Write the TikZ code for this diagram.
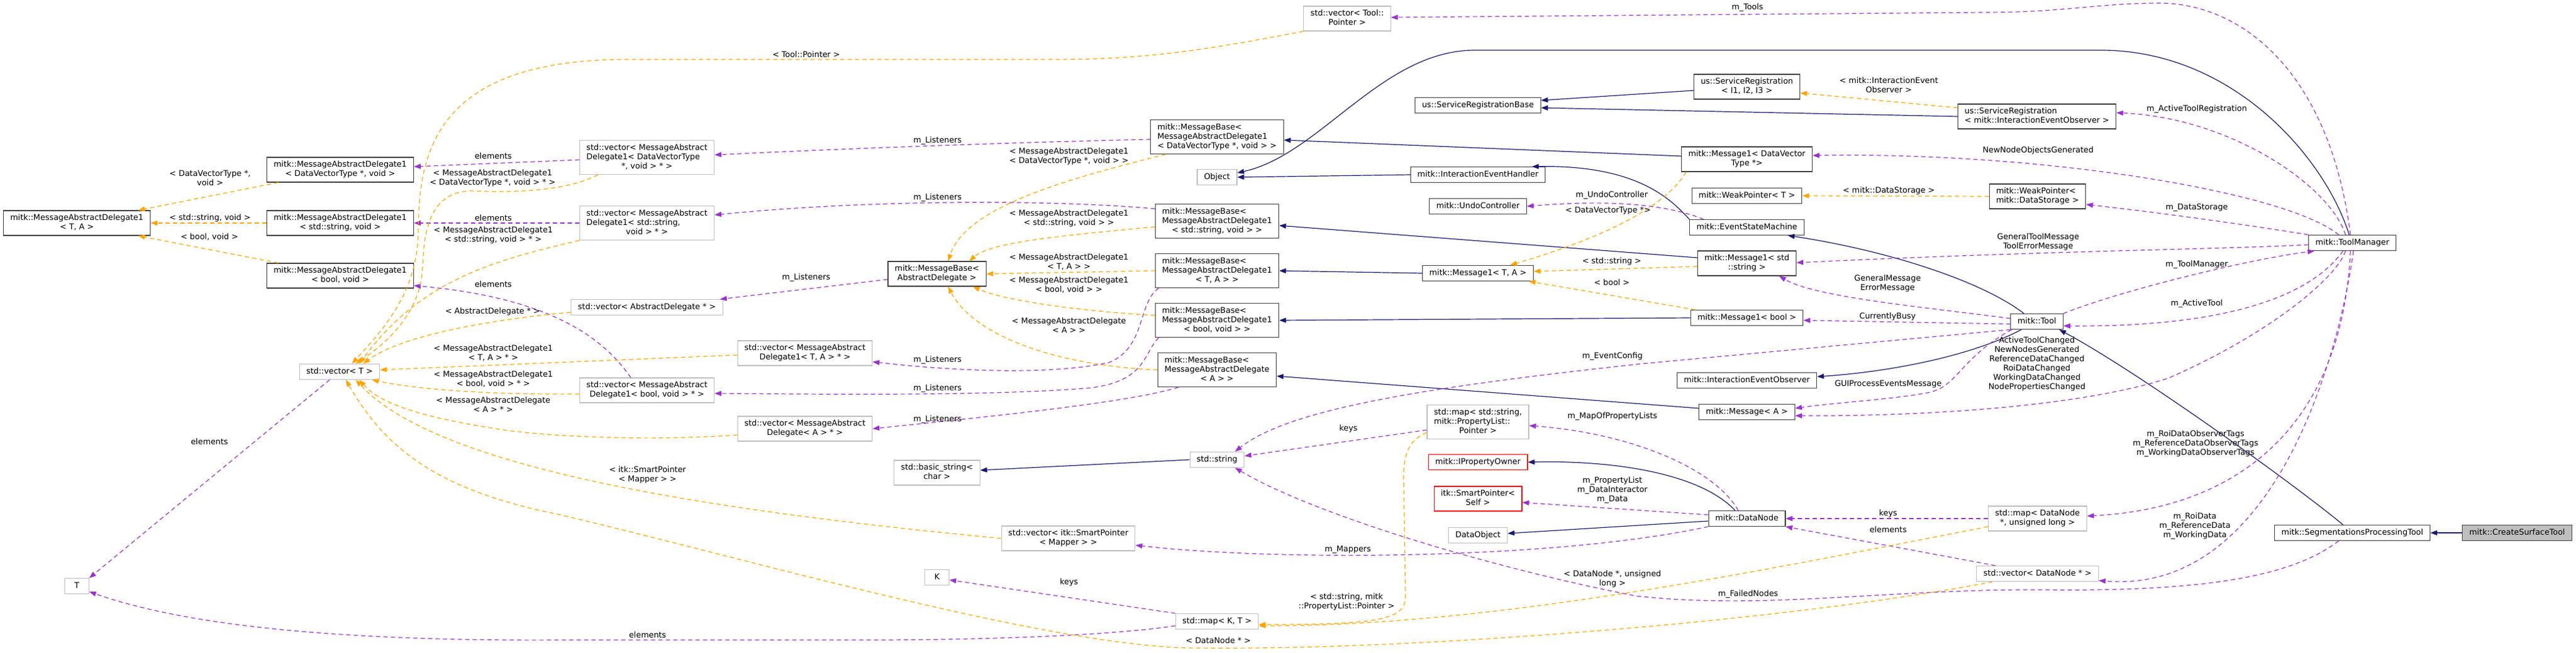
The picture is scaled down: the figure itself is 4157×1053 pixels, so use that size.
\documentclass[tikz,border=0pt]{standalone}
\usepackage{fontspec}
\setmainfont{DejaVu Sans}
\usetikzlibrary{arrows.meta}
\definecolor{inhblue}{HTML}{191970}
\definecolor{usepurple}{HTML}{9A32CD}
\definecolor{tplorange}{HTML}{FFA500}
\definecolor{boxgray}{HTML}{BFBFBF}
\definecolor{boxdark}{HTML}{404040}

\begin{document}
\begin{tikzpicture}[
  x=1pt, y=-1pt, % 像素坐标:向右 1pt,向下 1pt
  >={Triangle[length=11pt,width=8pt]},
  box/.style={draw=boxdark, line width=1.1pt, fill=white, inner xsep=11pt, inner ysep=5pt, font=\fontsize{12.9}{15}\selectfont},
  clsbox/.style={box},
  extbox/.style={box, draw=boxgray},
  redbox/.style={box, draw=red},
  curbox/.style={box, fill=boxgray},
  elabel/.style={font=\fontsize{12.9}{15}\selectfont, inner sep=0pt},
  inhline/.style={->, draw=inhblue, line width=1.2pt},
  useline/.style={->, draw=usepurple, line width=1.2pt, dash pattern=on 7pt off 5pt},
  tplline/.style={->, draw=tplorange, line width=1.2pt, dash pattern=on 7pt off 5pt}
]
  \fill[white] (0,0) rectangle (4157,1053);
  \useasboundingbox (0,0) rectangle (4157,1053);

  % 节点文字宏:前几行左对齐,最后一行居中
  \newcommand{\nodetxt}[2]{\begin{tabular}{@{}l@{}}#1\\\multicolumn{1}{@{}c@{}}{#2}\end{tabular}}
  \newcommand{\labtxt}[1]{\begin{tabular}{@{}c@{}}#1\end{tabular}}

  % 左侧:委托与 vector
  \node[clsbox] (madTA) at (124,360) {\nodetxt{mitk::MessageAbstractDelegate1}{< T, A >}};
  \node[extbox, minimum width=39pt] (tT) at (124,946) {\strut T};
  \node[clsbox] (madDVT) at (549,274) {\nodetxt{mitk::MessageAbstractDelegate1}{< DataVectorType *, void >}};
  \node[clsbox] (madStr) at (549,360) {\nodetxt{mitk::MessageAbstractDelegate1}{< std::string, void >}};
  \node[clsbox] (madBool) at (549,445) {\nodetxt{mitk::MessageAbstractDelegate1}{< bool, void >}};
  \node[extbox] (vecT) at (548,600) {\strut std::vector< T >};
  \node[extbox] (vecDVT) at (1044,254) {\nodetxt{std::vector< MessageAbstract\\Delegate1< DataVectorType}{*, void > * >}};
  \node[extbox] (vecStr) at (1044,360) {\nodetxt{std::vector< MessageAbstract\\Delegate1< std::string,}{void > * >}};
  \node[extbox] (vecAD) at (1044,496) {\strut std::vector< AbstractDelegate * >};
  \node[extbox] (vecBool) at (1044,630) {\nodetxt{std::vector< MessageAbstract}{Delegate1< bool, void > * >}};
  \node[extbox] (vecTA) at (1299,570) {\nodetxt{std::vector< MessageAbstract}{Delegate1< T, A > * >}};
  \node[extbox] (vecA) at (1299,692) {\nodetxt{std::vector< MessageAbstract}{Delegate< A > * >}};

  % 中部:MessageBase 与 std 类型
  \node[clsbox] (mbAD) at (1512,442) {\nodetxt{mitk::MessageBase<}{AbstractDelegate >}};
  \node[extbox] (basicStr) at (1512,763) {\nodetxt{std::basic\_string<}{char >}};
  \node[extbox, minimum width=39pt] (tK) at (1512,932) {\strut K};
  \node[extbox] (vecMapper) at (1724,869) {\nodetxt{std::vector< itk::SmartPointer}{< Mapper > >}};
  \node[clsbox] (mbDVT) at (1964,221) {\nodetxt{mitk::MessageBase<\\MessageAbstractDelegate1}{< DataVectorType *, void > >}};
  \node[extbox] (object) at (1964,286) {\strut Object};
  \node[clsbox] (mbStr) at (1964,357) {\nodetxt{mitk::MessageBase<\\MessageAbstractDelegate1}{< std::string, void > >}};
  \node[clsbox] (mbTA) at (1964,437) {\nodetxt{mitk::MessageBase<\\MessageAbstractDelegate1}{< T, A > >}};
  \node[clsbox] (mbBool) at (1964,517) {\nodetxt{mitk::MessageBase<\\MessageAbstractDelegate1}{< bool, void > >}};
  \node[clsbox] (mbA) at (1964,597) {\nodetxt{mitk::MessageBase<\\MessageAbstractDelegate}{< A > >}};
  \node[extbox] (stdStr) at (1964,742) {\strut std::string};
  \node[extbox] (mapKT) at (1964,1003) {\strut std::map< K, T >};
  \node[extbox] (vecTool) at (2174,30) {\nodetxt{std::vector< Tool::}{Pointer >}};
  \node[clsbox] (srBase) at (2385,170) {\strut us::ServiceRegistrationBase};
  \node[clsbox] (ieh) at (2385,282) {\strut mitk::InteractionEventHandler};
  \node[clsbox] (undo) at (2385,333) {\strut mitk::UndoController};
  \node[clsbox] (msgTA) at (2385,441) {\strut mitk::Message1< T, A >};
  \node[extbox] (mapPL) at (2385,681) {\nodetxt{std::map< std::string,\\mitk::PropertyList::}{Pointer >}};
  \node[redbox] (ipo) at (2385,746) {\strut mitk::IPropertyOwner};
  \node[redbox] (smartSelf) at (2385,805) {\nodetxt{itk::SmartPointer<}{Self >}};
  \node[extbox] (dataObj) at (2385,864) {\strut DataObject};

  % 右部:消息、工具与管理器
  \node[clsbox] (sr3) at (2819,140) {\nodetxt{us::ServiceRegistration}{< I1, I2, I3 >}};
  \node[clsbox] (msgDVT) at (2819,257) {\nodetxt{mitk::Message1< DataVector}{Type *>}};
  \node[clsbox] (wpT) at (2819,316) {\strut mitk::WeakPointer< T >};
  \node[clsbox] (esm) at (2819,367) {\strut mitk::EventStateMachine};
  \node[clsbox] (msgStr) at (2819,425) {\nodetxt{mitk::Message1< std}{::string >}};
  \node[clsbox] (msgBool) at (2819,513) {\strut mitk::Message1< bool >};
  \node[clsbox] (ieo) at (2819,614) {\strut mitk::InteractionEventObserver};
  \node[clsbox] (msgA) at (2819,665) {\strut mitk::Message< A >};
  \node[clsbox] (dataNode) at (2819,837) {\strut mitk::DataNode};
  \node[clsbox] (srIEO) at (3287,188) {\nodetxt{us::ServiceRegistration}{< mitk::InteractionEventObserver >}};
  \node[clsbox] (wpDS) at (3288,317) {\nodetxt{mitk::WeakPointer<}{mitk::DataStorage >}};
  \node[clsbox] (tool) at (3287,519) {\strut mitk::Tool};
  \node[extbox] (mapDN) at (3288,837) {\nodetxt{std::map< DataNode}{*, unsigned long >}};
  \node[extbox] (vecDN) at (3288,926) {\strut std::vector< DataNode * >};
  \node[clsbox] (toolMgr) at (3796,392) {\strut mitk::ToolManager};
  \node[clsbox] (segTool) at (3796,860) {\strut mitk::SegmentationsProcessingTool};
  \node[curbox] (createTool) at (4062,860) {\strut mitk::CreateSurfaceTool};

  % 继承(实线)
  \draw[inhline] (createTool.west) -- (segTool.east);
  \draw[inhline] ([xshift=-15pt]segTool.north) .. controls (3700,780) and (3450,600) .. ([xshift=36pt]tool.south);
  \draw[inhline] ([xshift=-25pt]tool.south) .. controls (3180,575) and (3050,600) .. ([yshift=6pt]ieo.east);
  \draw[inhline] ([xshift=-21pt]tool.north) .. controls (3200,455) and (3050,405) .. ([xshift=66pt]esm.south);
  \draw[inhline] (esm.north west) .. controls (2695,320) and (2640,266) .. ([xshift=-22pt]ieh.north east);
  \draw[inhline] (ieh.west) -- (object.east);
  \draw[inhline] ([xshift=-5pt]toolMgr.north) .. controls (3750,250) and (3600,81) .. (3390,81) -- (2380,81)
    .. controls (2230,81) and (2130,250) .. ([yshift=7pt]object.east);
  \draw[inhline] ([yshift=-6pt]sr3.west) -- ([yshift=8pt]srBase.east);
  \draw[inhline] (srIEO.west) -- ([yshift=-4pt]srBase.east);
  \draw[inhline] ([yshift=5pt]msgDVT.west) -- ([yshift=-5pt]mbDVT.east);
  \draw[inhline] ([yshift=9pt]msgStr.west) -- ([yshift=-7pt]mbStr.east);
  \draw[inhline] (msgTA.west) -- (mbTA.east);
  \draw[inhline] (msgBool.west) -- (mbBool.east);
  \draw[inhline] ([yshift=6pt]msgA.west) -- ([yshift=-10pt]mbA.east);
  \draw[inhline] (stdStr.west) -- ([yshift=4pt]basicStr.east);
  \draw[inhline] ([xshift=-19pt]dataNode.north) .. controls (2740,760) and (2590,743) .. (ipo.east);
  \draw[inhline] ([yshift=-4pt]dataNode.west) -- ([yshift=3pt]dataObj.east);

  % 使用关系(紫色虚线)
  \draw[useline] ([xshift=-11pt]toolMgr.north) .. controls (3760,300) and (3600,190) .. ([yshift=6pt]srIEO.east);
  \draw[useline] ([xshift=-3pt]toolMgr.north) .. controls (3760,120) and (3620,3) .. (3480,5)
    .. controls (3380,6) and (3330,20) .. (3200,20) -- ([yshift=2pt]vecTool.east);
  \draw[useline] ([xshift=-22pt]toolMgr.north) .. controls (3690,310) and (3300,245) .. ([yshift=6pt]msgDVT.east);
  \draw[useline] (toolMgr.north west) .. controls (3640,365) and (3500,345) .. ([yshift=-13pt]wpDS.east);
  \draw[useline] ([yshift=-3pt]toolMgr.west) .. controls (3600,402) and (3300,405) .. ([yshift=1pt]msgStr.east);
  \draw[useline] (tool.north east) .. controls (3420,470) and (3620,420) .. ([xshift=10pt]toolMgr.south west);
  \draw[useline] ([xshift=-15pt]toolMgr.south) .. controls (3720,490) and (3560,528) .. ([yshift=-7pt]tool.east);
  \draw[useline] ([xshift=-11pt]toolMgr.south) .. controls (3770,450) and (3660,540) .. (3500,610)
    .. controls (3380,650) and (3150,672) .. ([yshift=-6pt]msgA.east);
  \draw[useline] ([xshift=-3pt]toolMgr.south) .. controls (3780,680) and (3620,820) .. ([yshift=4pt]mapDN.east);
  \draw[useline] ([xshift=2pt]toolMgr.south) .. controls (3770,600) and (3660,960) .. ([yshift=-11pt]vecDN.east);
  \draw[useline] ([yshift=5pt]tool.west) .. controls (3100,495) and (2930,480) .. ([xshift=-28pt]msgStr.south east);
  \draw[useline] ([yshift=-4pt]tool.west) -- ([yshift=-4pt]msgBool.east);
  \draw[useline] (tool.south west) -- (2650,587) .. controls (2300,625) and (2080,660) .. ([xshift=29pt]stdStr.north);
  \draw[useline] ([xshift=2pt]tool.south west) .. controls (3160,580) and (3160,625) .. (3110,634)
    .. controls (3050,645) and (2960,650) .. ([yshift=6pt]msgA.east);
  \draw[useline] ([xshift=23pt]esm.north west) .. controls (2690,330) and (2600,322) .. (undo.east);
  \draw[useline] ([xshift=-14pt]dataNode.north) .. controls (2770,760) and (2640,700) .. ([yshift=-6pt]mapPL.east);
  \draw[useline] ([yshift=6pt]dataNode.west) -- ([yshift=-6pt]smartSelf.east);
  \draw[useline] (dataNode.south west) .. controls (2500,905) and (2050,905) .. ([yshift=-11pt]vecMapper.east);
  \draw[useline] (mapDN.west) -- (dataNode.east);
  \draw[useline] ([xshift=31pt]vecDN.north west) -- (dataNode.south east);
  \draw[useline] (mapKT.north west) -- ([yshift=-4pt]tK.east);
  \draw[useline] ([yshift=-7pt]mapKT.west) .. controls (1800,1025) and (1600,1033) .. (1400,1033) -- (900,1033)
    .. controls (550,1035) and (300,1010) .. ([yshift=4pt]tT.south east);
  \draw[useline] ([xshift=-16pt]vecT.south) -- (tT.north east);
  \draw[useline] ([yshift=-13pt]mapPL.west) -- ([yshift=6pt]stdStr.east);
  \draw[useline] ([xshift=-22pt]segTool.south) .. controls (3700,930) and (3560,955) .. (3300,952)
    .. controls (3050,950) and (2850,985) .. (2640,962) .. controls (2400,915) and (2120,830) .. ([xshift=29pt]stdStr.south);
  \draw[useline] ([yshift=-4pt]vecDVT.west) -- ([yshift=5pt]madDVT.east);
  \draw[useline] (vecStr.west) -- (madStr.east);
  \draw[useline] ([xshift=-26pt]vecBool.north) .. controls (970,540) and (880,480) .. ([yshift=-16pt]madBool.east);
  \draw[useline] ([yshift=-4pt]mbDVT.west) .. controls (1700,228) and (1400,238) .. ([yshift=4pt]vecDVT.east);
  \draw[useline] ([yshift=20pt]mbStr.west) .. controls (1700,322) and (1400,322) .. ([yshift=13pt]vecStr.east);
  \draw[useline] ([yshift=-9pt]mbAD.west) -- ([xshift=-5pt]vecAD.north east);
  \draw[useline] ([xshift=6pt]mbTA.south west) .. controls (1835,490) and (1850,560) .. (1790,585)
    .. controls (1700,605) and (1550,600) .. ([yshift=-14pt]vecTA.east);
  \draw[useline] ([xshift=6pt]mbBool.south west) .. controls (1845,570) and (1850,615) .. (1760,626)
    .. controls (1600,640) and (1300,636) .. ([yshift=-5pt]vecBool.east);
  \draw[useline] ([xshift=34pt]mbA.south west) .. controls (1820,650) and (1600,672) .. (vecA.east);

  % 模板实例(橙色虚线)
  \draw[tplline] ([xshift=25pt]mbDVT.south west) .. controls (1740,285) and (1560,330) .. ([xshift=18pt]mbAD.north);
  \draw[tplline] ([yshift=-9pt]mbStr.west) .. controls (1720,380) and (1600,390) .. ([xshift=52pt]mbAD.north);
  \draw[tplline] (mbTA.west) -- (mbAD.east);
  \draw[tplline] ([yshift=8pt]mbBool.west) .. controls (1740,502) and (1620,485) .. ([xshift=58pt]mbAD.south);
  \draw[tplline] (mbA.west) .. controls (1700,590) and (1570,540) .. ([xshift=18pt]mbAD.south);
  \draw[tplline] ([xshift=8pt]msgDVT.south west) .. controls (2690,330) and (2600,380) .. ([xshift=52pt]msgTA.north);
  \draw[tplline] ([yshift=-5pt]msgStr.west) -- ([yshift=3pt]msgTA.east);
  \draw[tplline] ([xshift=8pt]msgBool.north west) -- ([xshift=-8pt]msgTA.south east);
  \draw[tplline] (wpDS.west) -- (wpT.east);
  \draw[tplline] ([yshift=14pt]srIEO.west) -- ([yshift=-10pt]sr3.east);
  \draw[tplline] ([xshift=19pt]madDVT.south west) -- ([xshift=-20pt]madTA.north east);
  \draw[tplline] (madStr.west) -- (madTA.east);
  \draw[tplline] ([xshift=19pt]madBool.north west) -- ([xshift=-20pt]madTA.south east);
  \draw[tplline] (vecTool.south west) .. controls (1950,80) and (1850,96) .. (1700,96) -- (1000,96)
    .. controls (700,100) and (676,250) .. (675,370) .. controls (675,470) and (620,530) .. ([xshift=20pt]vecT.north);
  \draw[tplline] ([xshift=30pt]vecDVT.south west) .. controls (920,305) and (850,312) .. (760,308)
    .. controls (690,310) and (684,380) .. (682,430) .. controls (680,500) and (630,550) .. ([xshift=26pt]vecT.north);
  \draw[tplline] (vecStr.south west) .. controls (800,420) and (680,450) .. ([xshift=32pt]vecT.north);
  \draw[tplline] ([yshift=-8pt]vecAD.west) .. controls (800,515) and (650,540) .. ([xshift=38pt]vecT.north);
  \draw[tplline] ([yshift=-3pt]vecTA.west) -- ([yshift=3pt]vecT.east);
  \draw[tplline] ([yshift=-6pt]vecBool.west) .. controls (800,637) and (680,630) .. ([xshift=-13pt]vecT.south east);
  \draw[tplline] ([yshift=-10pt]vecA.west) .. controls (1050,712) and (900,705) .. (820,695)
    .. controls (720,680) and (620,660) .. ([xshift=32pt]vecT.south);
  \draw[tplline] (vecMapper.west) .. controls (1100,820) and (700,750) .. ([xshift=26pt]vecT.south);
  \draw[tplline] ([xshift=26pt]vecDN.south west) .. controls (2900,1000) and (2300,1050) .. (1932,1046)
    .. controls (1700,1046) and (1200,900) .. (900,830) .. controls (700,790) and (620,720) .. ([xshift=10pt]vecT.south);
  \draw[tplline] ([yshift=-13pt]mapDN.west) .. controls (2800,930) and (2400,1010) .. ([yshift=-7pt]mapKT.east);
  \draw[tplline] ([yshift=-17pt]mapPL.west) .. controls (2275,710) and (2265,730) .. (2265,770) -- (2268,960)
    .. controls (2270,1000) and (2230,1008) .. ([yshift=-5pt]mapKT.east);

  % 连线标签
  \foreach \lx/\ly/\lt [count=\i] in {
    339/289/{\labtxt{< DataVectorType *,\\void >}},
    339/352/{< std::string, void >},
    338/382/{< bool, void >},
    796/252/{elements},
    795/288/{\labtxt{< MessageAbstractDelegate1\\< DataVectorType *, void > * >}},
    796/352/{elements},
    796/380/{\labtxt{< MessageAbstractDelegate1\\< std::string, void > * >}},
    796/459/{elements},
    795/503/{< AbstractDelegate * >},
    796/571/{\labtxt{< MessageAbstractDelegate1\\< T, A > * >}},
    796/613/{\labtxt{< MessageAbstractDelegate1\\< bool, void > * >}},
    796/655/{\labtxt{< MessageAbstractDelegate\\< A > * >}},
    338/713/{elements},
    1301/88/{< Tool::Pointer >},
    1513/227/{m\_Listeners},
    1513/319/{m\_Listeners},
    1301/448/{m\_Listeners},
    1513/581/{m\_Listeners},
    1513/627/{m\_Listeners},
    1513/677/{m\_Listeners},
    1045/767/{\labtxt{< itk::SmartPointer\\< Mapper > >}},
    1725/940/{keys},
    1045/1025/{elements},
    1725/253/{\labtxt{< MessageAbstractDelegate1\\< DataVectorType *, void > >}},
    1725/353/{\labtxt{< MessageAbstractDelegate1\\< std::string, void > >}},
    1725/424/{\labtxt{< MessageAbstractDelegate1\\< T, A > >}},
    1725/461/{\labtxt{< MessageAbstractDelegate1\\< bool, void > >}},
    1725/527/{\labtxt{< MessageAbstractDelegate\\< A > >}},
    2601/315/{m\_UndoController},
    2595/340/{< DataVectorType *>},
    2601/422/{< std::string >},
    2601/456/{< bool >},
    2602/575/{m\_EventConfig},
    2176/692/{keys},
    2602/672/{m\_MapOfPropertyLists},
    2602/791/{\labtxt{m\_PropertyList\\m\_DataInteractor\\m\_Data}},
    2175/887/{m\_Mappers},
    2602/935/{\labtxt{< DataNode *, unsigned\\long >}},
    2173/972/{\labtxt{< std::string, mitk\\::PropertyList::Pointer >}},
    1966/1034/{< DataNode * >},
    2821/959/{m\_FailedNodes},
    2820/12/{m\_Tools},
    3048/139/{\labtxt{< mitk::InteractionEvent\\Observer >}},
    3545/176/{m\_ActiveToolRegistration},
    3289/243/{NewNodeObjectsGenerated},
    3048/308/{< mitk::DataStorage >},
    3545/335/{m\_DataStorage},
    3289/391/{\labtxt{GeneralToolMessage\\ToolErrorMessage}},
    3545/427/{m\_ToolManager},
    3046/458/{\labtxt{GeneralMessage\\ErrorMessage}},
    3046/511/{CurrentlyBusy},
    3545/490/{m\_ActiveTool},
    3287/588/{\labtxt{ActiveToolChanged\\NewNodesGenerated\\ReferenceDataChanged\\RoiDataChanged\\WorkingDataChanged\\NodePropertiesChanged}},
    3047/620/{GUIProcessEventsMessage},
    3047/829/{keys},
    3047/855/{elements},
    3543/716/{\labtxt{m\_RoiDataObserverTags\\m\_ReferenceDataObserverTags\\m\_WorkingDataObserverTags}},
    3542/849/{\labtxt{m\_RoiData\\m\_ReferenceData\\m\_WorkingData}}} {
    \node[elabel] (lbl\i) at (\lx,\ly) {\lt};
  }
\end{tikzpicture}
\end{document}
